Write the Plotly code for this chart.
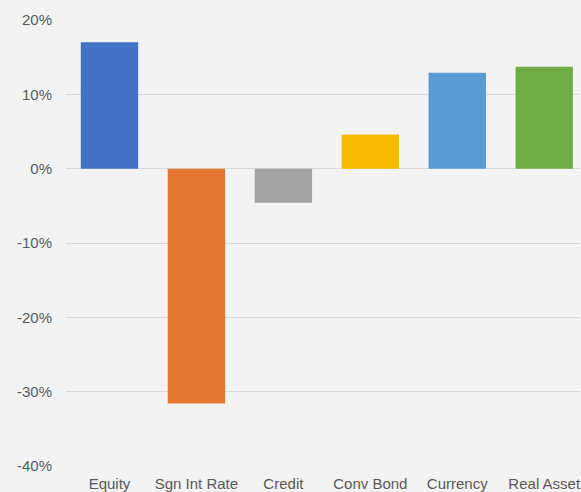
import plotly.graph_objects as go

# Return contribution by asset group
groups = ["Equity", "Sgn Int Rate", "Credit", "Conv Bond", "Currency", "Real Asset"]
returns = [0.170, -0.316, -0.046, 0.046, 0.129, 0.137]
colors = ["#4472C4", "#E47832", "#A3A3A3", "#F7BB00", "#5B9BD5", "#70AD47"]

y_ticks = [-0.4, -0.3, -0.2, -0.1, 0.0, 0.1, 0.2]
y_tick_labels = ["-40%", "-30%", "-20%", "-10%", "0%", "10%", "20%"]

fig = go.Figure(
    go.Bar(
        x=groups,
        y=returns,
        marker=dict(color=colors, line=dict(width=0)),
        hoverinfo="skip",
    )
)

fig.update_layout(
    width=581,
    height=492,
    margin=dict(l=66, r=0, t=20, b=25),
    paper_bgcolor="#F3F3F3",
    plot_bgcolor="#F3F3F3",
    bargap=0.34,
    showlegend=False,
    font=dict(family="Liberation Sans, Arial, sans-serif", size=15, color="#595959"),
)

fig.update_xaxes(
    range=[-0.5, 5.4],
    showgrid=False,
    showline=False,
    zeroline=False,
    ticks="outside",
    ticklen=4,
    tickcolor="rgba(0,0,0,0)",
    ticklabeloverflow="allow",
    tickfont=dict(size=15, color="#595959"),
)

fig.update_yaxes(
    range=[-0.4, 0.2],
    tickvals=y_ticks,
    ticktext=y_tick_labels,
    showgrid=True,
    gridcolor="#D9D9D9",
    gridwidth=1,
    zeroline=True,
    zerolinecolor="#D9D9D9",
    zerolinewidth=1,
    showline=False,
    ticks="outside",
    ticklen=10,
    tickcolor="rgba(0,0,0,0)",
    tickfont=dict(size=15, color="#595959"),
)

fig.write_html("out.html")
